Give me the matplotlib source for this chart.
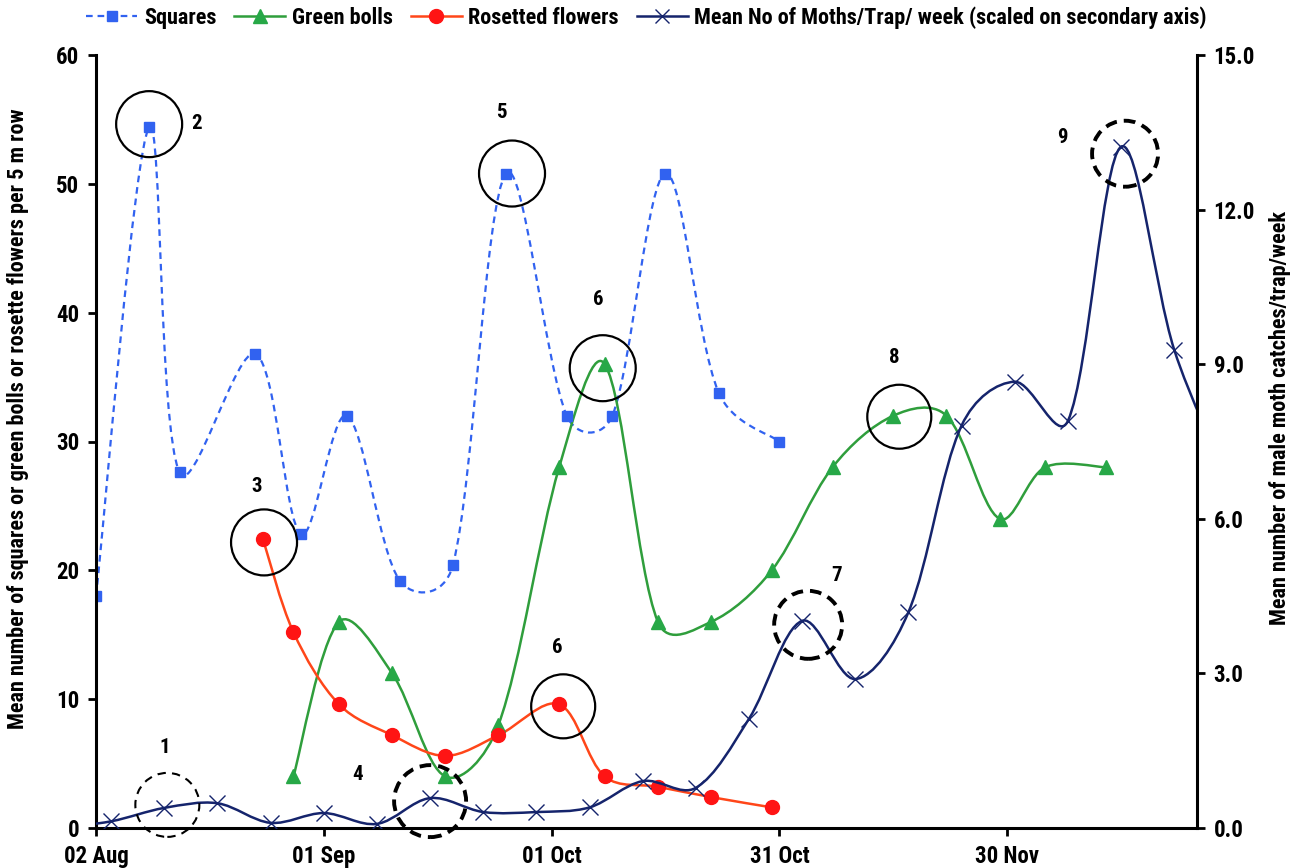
import matplotlib
matplotlib.use('Agg')
import matplotlib.pyplot as plt
import matplotlib.dates as mdates
import matplotlib.transforms as mtransforms
from matplotlib.path import Path
from matplotlib.patches import PathPatch, Circle
from matplotlib.lines import Line2D
import numpy as np
import pandas as pd

plt.rcParams['font.family'] = ['Roboto Condensed', 'Liberation Sans', 'DejaVu Sans']
plt.rcParams['font.weight'] = 'bold'
plt.rcParams['axes.labelweight'] = 'bold'

# squares per 5 m row
sq_dates = ['2015-08-02', '2015-08-09', '2015-08-13', '2015-08-23', '2015-08-29', '2015-09-04',
            '2015-09-11', '2015-09-18', '2015-09-25', '2015-10-03', '2015-10-09', '2015-10-16',
            '2015-10-23', '2015-10-31']
sq_vals = [18.0, 54.4, 27.6, 36.8, 22.8, 32.0, 19.2, 20.4, 50.8, 32.0, 32.0, 50.8, 33.8, 30.0]

# green bolls
gb_dates = ['2015-08-28', '2015-09-03', '2015-09-10', '2015-09-17', '2015-09-24', '2015-10-02',
            '2015-10-08', '2015-10-15', '2015-10-22', '2015-10-30', '2015-11-07', '2015-11-15',
            '2015-11-22', '2015-11-29', '2015-12-05', '2015-12-13']
gb_vals = [4, 16, 12, 4, 8, 28, 36, 16, 16, 20, 28, 32, 32, 24, 28, 28]

# rosetted flowers
rf_dates = ['2015-08-24', '2015-08-28', '2015-09-03', '2015-09-10', '2015-09-17', '2015-09-24',
            '2015-10-02', '2015-10-08', '2015-10-15', '2015-10-22', '2015-10-30']
rf_vals = [22.4, 15.2, 9.6, 7.2, 5.6, 7.2, 9.6, 4.0, 3.2, 2.4, 1.6]

# moths/trap/week (secondary axis); first and last points lie outside the axis range
mo_dates = ['2015-07-28', '2015-08-04', '2015-08-11', '2015-08-18', '2015-08-25', '2015-09-01',
            '2015-09-08', '2015-09-15', '2015-09-22', '2015-09-29', '2015-10-06', '2015-10-13',
            '2015-10-20', '2015-10-27', '2015-11-03', '2015-11-10', '2015-11-17', '2015-11-24',
            '2015-12-01', '2015-12-08', '2015-12-15', '2015-12-22', '2015-12-29']
mo_vals = [0.0, 0.13, 0.39, 0.48, 0.10, 0.29, 0.08, 0.58, 0.31, 0.31, 0.40, 0.91, 0.78,
           2.12, 4.02, 2.89, 4.19, 7.81, 8.66, 7.90, 13.22, 9.28, 6.8]

x_ticks = ['2015-08-02', '2015-09-01', '2015-10-01', '2015-10-31', '2015-11-30']
x_tick_labels = ['02 Aug', '01 Sep', '01 Oct', '31 Oct', '30 Nov']

C_SQ = '#3162F0'
C_GB = '#2F9E3C'
C_GBM = '#27A847'
C_RF = '#FF4619'
C_RFM = '#FF1414'
C_MO = '#15246C'


def dnum(d):
    return mdates.date2num(pd.to_datetime(d))


def smooth_path(x, y, sx, sy):
    # excel-like smoothed line: cubic bezier through the points, tangents
    # shortened where the neighbouring segment (in pixels) is much longer
    pts = np.column_stack([x, y]).astype(float)
    scl = np.array([sx, sy])
    n = len(pts)
    verts = [pts[0]]
    codes = [Path.MOVETO]

    def seg(a, b):
        return np.hypot(*((b - a) * scl))

    for i in range(n - 1):
        p0 = pts[i - 1] if i > 0 else pts[i]
        p1 = pts[i]
        p2 = pts[i + 1]
        p3 = pts[i + 2] if i + 2 < n else pts[i + 1]
        d01, d12, d23 = seg(p0, p1), seg(p1, p2), seg(p2, p3)
        f1 = np.sqrt(2 * d12 / (d01 + d12)) if d01 > 0 else 1.0
        f2 = np.sqrt(2 * d12 / (d12 + d23)) if d23 > 0 else 1.0
        f1, f2 = min(f1, 1.2), min(f2, 1.2)
        verts += [p1 + (p2 - p0) * f1 / 6.0, p2 - (p3 - p1) * f2 / 6.0, p2]
        codes += [Path.CURVE4] * 3
    return Path(verts, codes)


W, H = 1301, 868
fig = plt.figure(figsize=(W / 100, H / 100), dpi=100)
ax = fig.add_axes([96 / W, 40 / H, (1197 - 96) / W, (828 - 55) / H])
ax2 = ax.twinx()

x0, x1 = dnum('2015-08-02'), dnum('2015-12-25')
ax.set_xlim(x0, x1)
ax.set_ylim(0, 60)
ax2.set_ylim(0, 15)
pos = ax.get_position()
sx = pos.width * W / (x1 - x0)
sy1 = pos.height * H / 60
sy2 = pos.height * H / 15

xs_sq, xs_gb, xs_rf, xs_mo = dnum(sq_dates), dnum(gb_dates), dnum(rf_dates), dnum(mo_dates)

ax.add_patch(PathPatch(smooth_path(xs_sq, sq_vals, sx, sy1), fill=False, ec=C_SQ, lw=1.6, ls=(0, (3, 2.2))))
ax.plot(xs_sq, sq_vals, ls='none', marker='s', ms=7, color=C_SQ)
ax.add_patch(PathPatch(smooth_path(xs_gb, gb_vals, sx, sy1), fill=False, ec=C_GB, lw=1.8))
ax.plot(xs_gb, gb_vals, ls='none', marker='^', ms=10, color=C_GBM)
ax.add_patch(PathPatch(smooth_path(xs_rf, rf_vals, sx, sy1), fill=False, ec=C_RF, lw=1.8))
ax.plot(xs_rf, rf_vals, ls='none', marker='o', ms=10, color=C_RFM)

ax2.add_patch(PathPatch(smooth_path(xs_mo, mo_vals, sx, sy2), fill=False, ec=C_MO, lw=1.8))
ax2.plot(xs_mo, mo_vals, ls='none', marker='x', ms=11, mew=1.0, color=C_MO)

ax.set_xlim(x0, x1)
ax.set_ylim(0, 60)
ax2.set_ylim(0, 15)
ax.set_xticks(dnum(x_ticks))
ax.set_xticklabels(x_tick_labels)
ax.set_yticks(range(0, 61, 10))
ax2.set_yticks(np.arange(0, 15.1, 3))
ax2.set_yticklabels(['%.1f' % v for v in np.arange(0, 15.1, 3)])

for a in (ax, ax2):
    a.spines['top'].set_visible(False)
    for s in a.spines.values():
        s.set_linewidth(2.2)
    a.tick_params(width=2, length=6, labelsize=16.5, direction='out', pad=6)
ax.spines['right'].set_visible(False)
ax2.spines['left'].set_visible(False)
ax2.spines['bottom'].set_visible(False)

ax.set_ylabel('Mean number of squares or green bolls or rosette flowers per 5 m row', fontsize=16)
ax2.set_ylabel('Mean number of male moth catches/trap/week', fontsize=16)
ax.yaxis.set_label_coords(-0.061, 0.53)
ax2.yaxis.set_label_coords(1.065, 0.53)

# circled observations: (axis, x, y, circle offset px, radius px, style, label, label offset px)
notes = [
    (ax2, xs_mo[2], mo_vals[2], (3, 3), 32, 'thin', '1', (0, 60)),
    (ax, xs_sq[1], sq_vals[1], (0, 3), 33, 'solid', '2', (47, 4)),
    (ax, xs_rf[0], rf_vals[0], (1, -3), 33, 'solid', '3', (-6, 53)),
    (ax2, xs_mo[7], mo_vals[7], (0, -3), 36, 'thick', '4', (-73, 24)),
    (ax, xs_sq[8], sq_vals[8], (6, 0), 33, 'solid', '5', (-5, 61)),
    (ax, xs_gb[6], gb_vals[6], (-2, -4), 33, 'solid', '6', (-6, 65)),
    (ax, xs_rf[6], rf_vals[6], (4, -2), 32, 'solid', '6', (-2, 57)),
    (ax2, xs_mo[14], mo_vals[14], (6, -4), 34, 'thick', '7', (34, 45)),
    (ax, xs_gb[11], gb_vals[11], (6, -1), 32, 'solid', '8', (1, 58)),
    (ax2, xs_mo[20], mo_vals[20], (4, -7), 33, 'thick', '9', (-59, 9)),
]
styles = {'solid': dict(lw=1.6, ls='-'),
          'thin': dict(lw=1.5, ls=(0, (4, 3))),
          'thick': dict(lw=2.8, ls=(0, (3, 1.8)))}
for axis, xd, yd, off, r, st, lab, loff in notes:
    tr = fig.dpi_scale_trans + mtransforms.ScaledTranslation(xd, yd, axis.transData)
    ax2.add_artist(Circle((off[0] / 100, off[1] / 100), r / 100, transform=tr, fill=False,
                          ec='black', clip_on=False, **styles[st]))
    axis.annotate(lab, xy=(xd, yd), xytext=(loff[0] * 0.72, loff[1] * 0.72), textcoords='offset points',
                  ha='center', va='center', fontsize=15)

handles = [
    Line2D([], [], color=C_SQ, ls=(0, (3, 2.2)), lw=1.6, marker='s', ms=7),
    Line2D([], [], color=C_GB, lw=1.8, marker='^', ms=10, mfc=C_GBM, mec=C_GBM),
    Line2D([], [], color=C_RF, lw=1.8, marker='o', ms=10, mfc=C_RFM, mec=C_RFM),
    Line2D([], [], color=C_MO, lw=1.8, marker='x', ms=10, mew=1.0),
]
labels = ['Squares', 'Green bolls', 'Rosetted flowers', 'Mean No of Moths/Trap/ week (scaled on secondary axis)']
fig.legend(handles, labels, loc='upper center', bbox_to_anchor=(0.497, 1.016), ncol=4, frameon=False,
           fontsize=16, handlelength=2.3, handletextpad=0.3, columnspacing=0.8)

fig.savefig('out.png', dpi=100)
